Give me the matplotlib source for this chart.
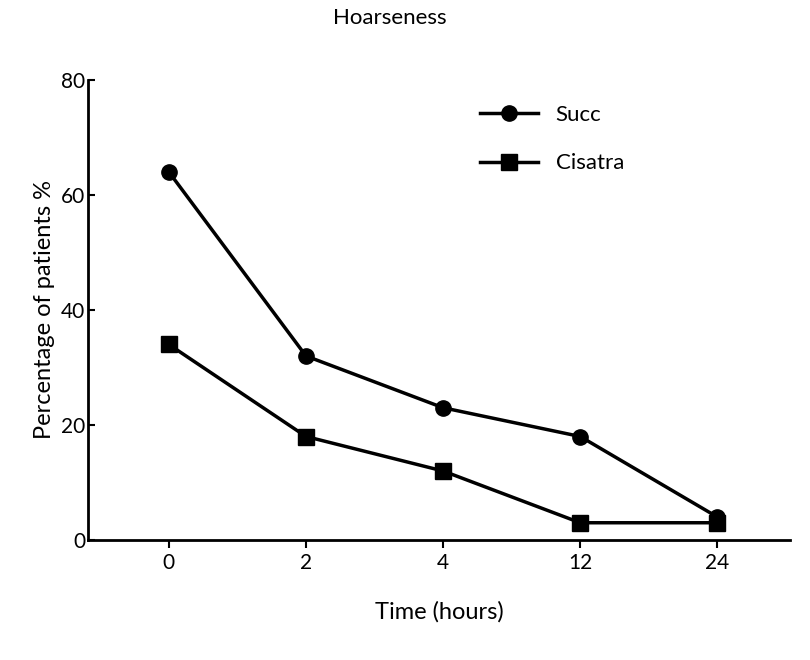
import matplotlib
matplotlib.use("Agg")
import matplotlib.pyplot as plt

categories = ["0", "2", "4", "12", "24"]
succ = [64, 32, 23, 18, 4]
cisatra = [34, 18, 12, 3, 3]
yticks = [0, 20, 40, 60, 80]

plt.rcParams["font.family"] = "Lato"
fig = plt.figure(figsize=(8.1, 6.6), dpi=100)
ax = fig.add_axes([88/810, 120/660, 702/810, 460/660])
x = list(range(len(categories)))
ax.plot(x, succ, "-o", color="black", lw=2.5, ms=11, label="Succ")
ax.plot(x, cisatra, "-s", color="black", lw=2.5, ms=11, label="Cisatra")
ax.set_xlim(-0.59, 4.53)
ax.set_ylim(0, 80)
ax.set_xticks(x, categories)
ax.set_yticks(yticks)
ax.tick_params(labelsize=15, width=1.5, length=6)
ax.tick_params(axis="y", direction="in", length=5, pad=2)
for s in ["top", "right"]:
    ax.spines[s].set_visible(False)
for s in ["left", "bottom"]:
    ax.spines[s].set_linewidth(2)
ax.set_xlabel("Time (hours)", fontsize=17, labelpad=20)
ax.set_ylabel("Percentage of patients %", fontsize=17, labelpad=4)
fig.text(390/810, 1-18/660, "Hoarseness", ha="center", va="center", fontsize=16)
ax.legend(loc="upper left", bbox_to_anchor=(0.53, 0.99), frameon=False,
          fontsize=16, handlelength=2.6, labelspacing=1.3, markerscale=1.0)
fig.savefig("out.png")
